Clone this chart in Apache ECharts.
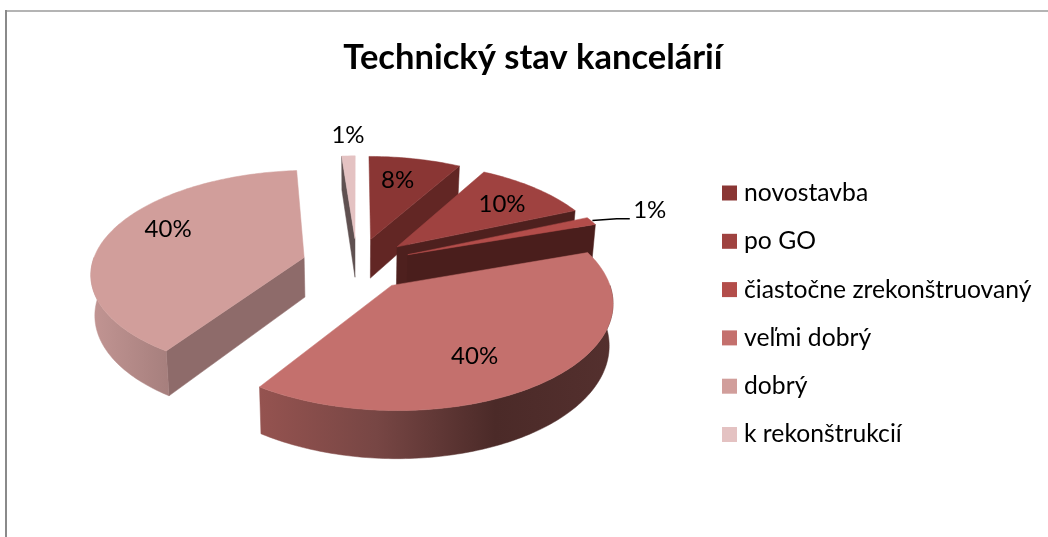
<!DOCTYPE html>
<html>
<head>
<meta charset="utf-8">
<script src="https://cdn.jsdelivr.net/npm/echarts@6/dist/echarts.min.js"></script>
<style>
  html, body { margin: 0; padding: 0; background: #fff; }
  #chart { width: 1048px; height: 537px; }
</style>
</head>
<body>
<div id="chart"></div>
<script>
const chartTitle = 'Technický stav kancelárií';
const categories = ['novostavba', 'po GO', 'čiastočne zrekonštruovaný', 'veľmi dobrý', 'dobrý', 'k rekonštrukcií'];
// the labels show them rounded
const shares = [8.2, 10.3, 1.3, 39.5, 39.5, 1.2];

// colours per slice: top face, radial wall, outer wall gradient
const topColors = ['#8a3634', '#9f4240', '#b34d4a', '#c4706d', '#d19e9b', '#e4c2c2'];
const edgeColors = ['#622624', '#4e201e', '#4a1e1c', '#5a2f2d', '#8e6b6a', '#5f5050'];
const wallColors = [
  ['#622624', '#622624'],
  ['#4e201e', '#4e201e'],
  ['#4a1e1c', '#4a1e1c'],
  ['#955350', '#774644', '#4b2a28', '#54302e'],
  ['#c29593', '#a67f7d'],
  ['#5f5050', '#5f5050'],
];
// paint order, far slices first
const sliceZ = [3, 4, 5, 7, 6, 2];
// label offset from the slice tip, px
const labelOffsets = [[27, -59], [105, -43], [242, -44], [83, 71], [-136, -28], [-7, -103]];

// projection of the exploded 3D pie
const center = [357, 264];
const radiusX = 212;
const radiusY = 101;
const perspective = 0.14;
const explode = 0.26;
const depth = 40;
const bottomShrink = 0.985;

const total = shares.reduce((a, b) => a + b, 0);
const toRad = Math.PI / 180;

function project(px, pz, bottom) {
  const s = 1 / (1 - perspective * pz);
  let x = center[0] + radiusX * px * s;
  let y = center[1] + radiusY * pz * s;
  if (bottom) {
    x = center[0] + (x - center[0]) * bottomShrink;
    y += depth * s;
  }
  return [x, y];
}

function sliceAngles(index) {
  let from = 0;
  for (let i = 0; i < index; i++) from += (shares[i] / total) * 360;
  return [from, from + (shares[index] / total) * 360];
}

function renderSlice(params, api) {
  const index = params.seriesIndex;
  const value = api.value(0);
  const [a0, a1] = sliceAngles(index);
  const mid = (a0 + a1) / 2;
  const ox = explode * Math.sin(mid * toRad);
  const oz = -explode * Math.cos(mid * toRad);
  const rim = (a, bottom) => project(ox + Math.sin(a * toRad), oz - Math.cos(a * toRad), bottom);
  const tipTop = project(ox, oz, false);
  const tipBottom = project(ox, oz, true);
  const children = [];

  const poly = (points, fill) => children.push({
    type: 'polygon',
    shape: { points: points },
    style: { fill: fill, stroke: fill, lineWidth: 0.5 },
  });

  // radial walls facing the viewer
  if (Math.sin(a0 * toRad) < -0.001) {
    poly([tipTop, rim(a0, false), rim(a0, true), tipBottom], edgeColors[index]);
  }
  if (Math.sin(a1 * toRad) > 0.001) {
    poly([tipTop, rim(a1, false), rim(a1, true), tipBottom], edgeColors[index]);
  }

  // outer wall, front half only
  const wallFrom = Math.max(a0, 90);
  const wallTo = Math.min(a1, 270);
  if (wallTo > wallFrom) {
    const upper = [];
    const lower = [];
    for (let a = wallFrom; a <= wallTo + 0.01; a += 1) {
      upper.push(rim(Math.min(a, wallTo), false));
      lower.unshift(rim(Math.min(a, wallTo), true));
    }
    upper.push(rim(wallTo, false));
    lower.unshift(rim(wallTo, true));
    const stops = wallColors[index].map((c, i, arr) => ({ offset: i / (arr.length - 1), color: c }));
    poly(upper.concat(lower), new echarts.graphic.LinearGradient(0, 0, 1, 0, stops));
  }

  // top face
  const face = [tipTop];
  for (let a = a0; a <= a1 + 0.01; a += 1) face.push(rim(Math.min(a, a1), false));
  face.push(rim(a1, false));
  poly(face, topColors[index]);

  // label
  const lx = tipTop[0] + labelOffsets[index][0];
  const ly = tipTop[1] + labelOffsets[index][1];
  if (index === 2) {
    const r = rim(a1, false);
    children.push({
      type: 'polyline',
      shape: { points: [[r[0] - 3, r[1] - 4], [lx - 33, ly + 8], [lx - 20, ly + 8]] },
      style: { stroke: '#000', lineWidth: 1.5, fill: 'none' },
    });
  }
  children.push({
    type: 'text',
    style: {
      text: Math.round(value) + '%',
      x: lx,
      y: ly,
      fill: '#000',
      font: '24px Lato',
      textAlign: 'center',
      textVerticalAlign: 'middle',
    },
    z2: 10,
  });

  return { type: 'group', children: children };
}

const chart = echarts.init(document.getElementById('chart'));
chart.setOption({
  animation: false,
  backgroundColor: '#fff',
  title: {
    text: chartTitle,
    left: 528,
    top: 35,
    textAlign: 'center',
    textStyle: { fontFamily: 'Lato', fontWeight: 'bold', fontSize: 34.5, color: '#000' },
  },
  legend: {
    orient: 'vertical',
    left: 722,
    top: 179,
    padding: 0,
    icon: 'rect',
    itemWidth: 15,
    itemHeight: 15,
    itemGap: 20.3,
    data: categories,
    textStyle: { fontFamily: 'Lato', fontSize: 24.7, color: '#000', lineHeight: 28, padding: [0, 0, 0, 2] },
  },
  graphic: [
    {
      type: 'line',
      shape: { x1: 5, y1: 11, x2: 1048, y2: 11 },
      style: { stroke: '#b4b4b4', lineWidth: 2 },
      silent: true,
    },
    {
      type: 'line',
      shape: { x1: 6, y1: 10, x2: 6, y2: 537 },
      style: { stroke: '#8a8a8a', lineWidth: 2 },
      silent: true,
    },
  ],
  series: categories.map((name, i) => ({
    type: 'custom',
    name: name,
    coordinateSystem: 'none',
    renderItem: renderSlice,
    data: [[shares[i]]],
    z: sliceZ[i],
    silent: true,
    itemStyle: { color: topColors[i] },
  })),
});
</script>
</body>
</html>
